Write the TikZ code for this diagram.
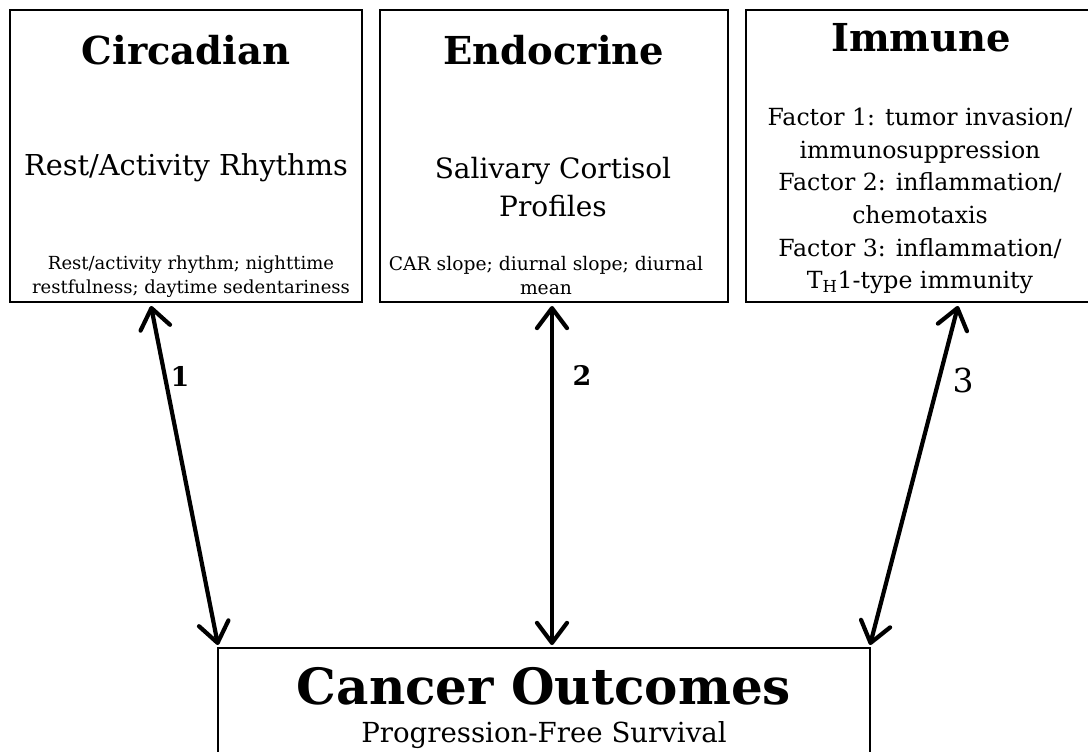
\documentclass[tikz,border=0pt]{standalone}
\usepackage{fontspec}
\setmainfont{DejaVu Serif}
\usetikzlibrary{arrows.meta}
\tikzset{
  box/.style={draw=black, line width=1.6pt, rectangle, inner sep=0pt},
  txt/.style={align=center, inner sep=0pt, text=black},
  link/.style={line width=4.2pt, line cap=round, {Straight Barb[length=20pt,width=30pt,line width=4.2pt,round]}-{Straight Barb[length=20pt,width=30pt,line width=4.2pt,round]}},
  num/.style={inner sep=0pt, text=black}
}
\begin{document}
\begin{tikzpicture}[x=1pt,y=-1pt]
\useasboundingbox (0,0) rectangle (1088,752);
\begin{scope}
\clip (0,0) rectangle (1088,752);
% boxes
\node[box, minimum width=352pt, minimum height=292pt] (circ) at (186,156) {};
\node[box, minimum width=348pt, minimum height=292pt] (endo) at (554,156) {};
\node[box, minimum width=346pt, minimum height=292pt] (immu) at (919,156) {};
\node[box, minimum width=652pt, minimum height=116pt] (canc) at (544,706) {};
\end{scope}
% Circadian texts
\node[txt, font=\fontsize{38.5}{42}\selectfont\bfseries] (circT) at (186,50) {Circadian};
\node[txt, font=\fontsize{28.8}{34}\selectfont] (circS) at (186,168) {Rest/Activity Rhythms};
\node[txt, font=\fontsize{18}{24}\selectfont] (circD) at (191,277) {Rest/activity rhythm; nighttime\\restfulness; daytime sedentariness};
% Endocrine texts
\node[txt, font=\fontsize{38.5}{42}\selectfont\bfseries] (endoT) at (554,50) {Endocrine};
\node[txt, font=\fontsize{28}{38}\selectfont] (endoS) at (553,187) {Salivary Cortisol\\Profiles};
\node[txt, font=\fontsize{18.7}{24}\selectfont] (endoD) at (546,276) {CAR slope; diurnal slope; diurnal\\mean};
% Immune texts
\node[txt, font=\fontsize{38.5}{42}\selectfont\bfseries] (immuT) at (921,38) {Immune};
\node[txt, font=\fontsize{23.6}{32.6}\selectfont] (immuD) at (920,201) {Factor 1: tumor invasion/\\immunosuppression\\Factor 2: inflammation/\\chemotaxis\\Factor 3: inflammation/\\T\textsubscript{H}1-type immunity};
% Cancer texts
\node[txt, font=\fontsize{50}{54}\selectfont\bfseries] (cancT) at (544,686) {Cancer Outcomes};
\node[txt, font=\fontsize{27.6}{30}\selectfont] (cancS) at (544,735) {Progression-Free Survival};
% connectors
\coordinate (c1) at (151,306);
\coordinate (k1) at (218,645);
\coordinate (c2) at (552,306);
\coordinate (k2) at (552,645);
\coordinate (c3) at (958,306);
\coordinate (k3) at (870,645);
\draw[link] (c1) -- (k1);
\draw[link] (c2) -- (k2);
\draw[link] (c3) -- (k3);
% labels
\node[num, font=\fontsize{27}{29}\selectfont\bfseries] (n1) at (180,376) {1};
\node[num, font=\fontsize{27}{29}\selectfont\bfseries] (n2) at (582,375) {2};
\node[num, font=\fontsize{33}{35}\selectfont] (n3) at (963,380) {3};
\end{tikzpicture}
\end{document}
